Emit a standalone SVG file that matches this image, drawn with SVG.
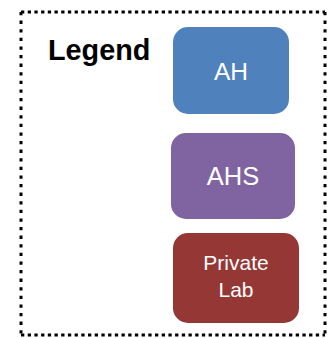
<svg xmlns="http://www.w3.org/2000/svg" width="327" height="338" viewBox="0 0 327 338">
<style>
.lbl{font-family:"Liberation Sans",Arial,sans-serif;fill:#fff;text-anchor:middle}
.brd{stroke:#000;stroke-width:3;fill:none}
</style>
<rect width="327" height="338" fill="#fff"/>
<g id="legend-frame">
<line class="brd" x1="21" y1="12" x2="325" y2="12" stroke-dasharray="3.3,3.4"/>
<line class="brd" x1="21" y1="335" x2="325" y2="335" stroke-dasharray="3.3,3.4"/>
<line class="brd" x1="21" y1="12" x2="21" y2="335" stroke-dasharray="3.3,5.3"/>
<line class="brd" x1="325" y1="12" x2="325" y2="335" stroke-dasharray="3.3,5.3"/>
</g>
<g id="legend-title">
<text x="48" y="60" font-family="Liberation Sans, Arial, sans-serif" font-weight="bold" font-size="28.8" fill="#000">Legend</text>
</g>
<g id="node-ah">
<rect x="173" y="27" width="116" height="87" rx="15" fill="#4F81BD"/>
<text class="lbl" x="231" y="80" font-size="24.5">AH</text>
</g>
<g id="node-ahs">
<rect x="171" y="133" width="124" height="86" rx="15" fill="#8064A2"/>
<text class="lbl" x="233" y="185" font-size="25.5">AHS</text>
</g>
<g id="node-private-lab">
<rect x="173" y="233" width="126" height="90" rx="15" fill="#953735"/>
<text class="lbl" x="236" y="270" font-size="21">Private</text>
<text class="lbl" x="236" y="297" font-size="21">Lab</text>
</g>
<g id="connectors"/>
</svg>
